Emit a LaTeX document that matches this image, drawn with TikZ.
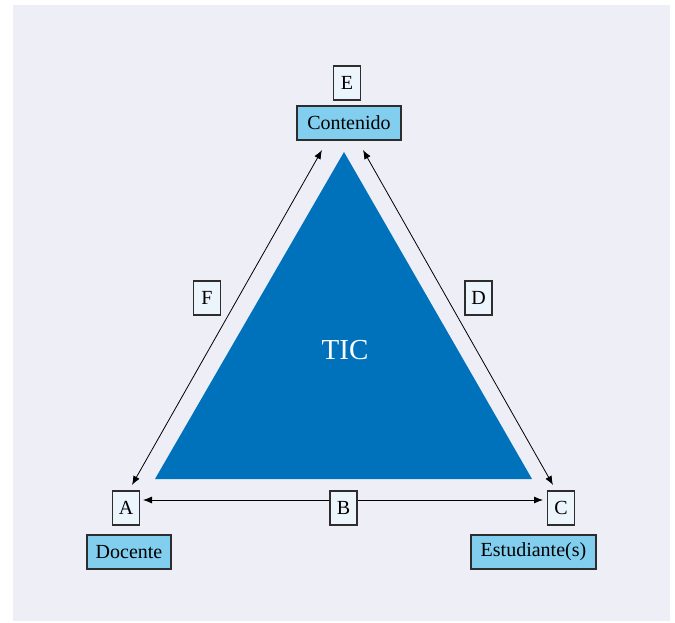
\documentclass[tikz,border=0pt]{standalone}
\usepackage{fontspec}
\setmainfont{Liberation Serif}
\usetikzlibrary{arrows.meta}
\definecolor{bgc}{RGB}{238,238,246}
\definecolor{tric}{RGB}{0,114,187}
\definecolor{rolec}{RGB}{130,206,238}
\definecolor{letc}{RGB}{236,245,252}
\definecolor{edgec}{RGB}{45,45,45}
\tikzset{
  rolebox/.style={draw=edgec, line width=1.1pt, fill=rolec, minimum height=34pt, inner xsep=5pt, font=\fontsize{20}{24}\selectfont},
  letbox/.style={draw=edgec, line width=1.1pt, fill=letc, minimum height=34pt, minimum width=27pt, inner sep=0pt, font=\fontsize{20}{24}\selectfont},
  conn/.style={line width=0.8pt, {Latex[length=9pt,width=7pt]}-{Latex[length=9pt,width=7pt]}}
}
\begin{document}
\begin{tikzpicture}[x=1pt,y=-1pt]
\useasboundingbox (0,0) rectangle (675,623);
\fill[bgc] (13,5) rectangle (670,621);
\fill[tric] (344,152) -- (155,479) -- (532,479) -- cycle;
\node[text=white, font=\fontsize{29}{33}\selectfont] (tic) at (345,350) {TIC};
\node[rolebox, minimum width=104pt] (cont) at (349,123) {Contenido};
\node[letbox] (E) at (347,83) {E};
\node[rolebox, minimum width=84pt] (doc) at (129,552) {Docente};
\node[rolebox, minimum width=125pt] (est) at (533.5,552) {Estudiante(s)};
\coordinate (lt) at (322,150);
\coordinate (lb) at (132,485);
\coordinate (rt) at (363,150);
\coordinate (rb) at (553,485);
\coordinate (bl) at (143,500);
\coordinate (br) at (543,500);
\draw[conn] (lt) -- (lb);
\draw[conn] (rt) -- (rb);
\draw[conn] (bl) -- (br);
\node[letbox] (A) at (126,508) {A};
\node[letbox] (B) at (343.5,508) {B};
\node[letbox] (C) at (561,508) {C};
\node[letbox] (F) at (207,298) {F};
\node[letbox] (D) at (478.5,298) {D};
\end{tikzpicture}
\end{document}
